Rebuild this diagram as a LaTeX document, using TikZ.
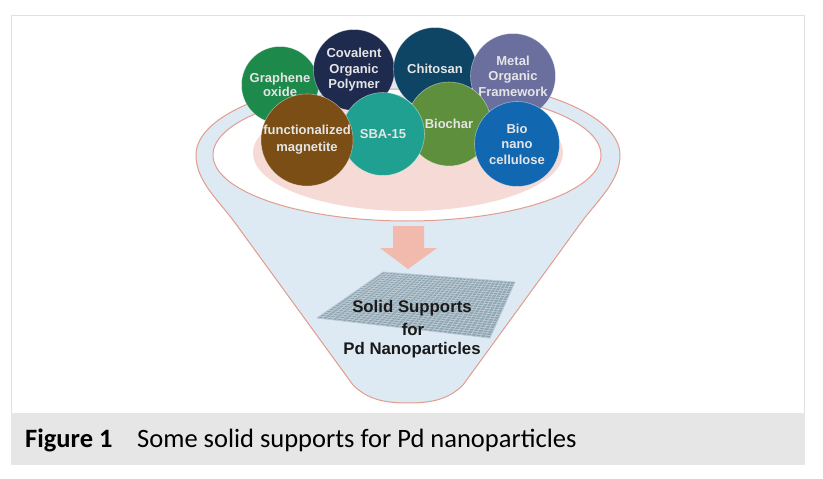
\documentclass[tikz,border=0pt]{standalone}
\usepackage{fontspec}
\setmainfont{Liberation Sans}
\newfontfamily\capfont{Carlito}
\usetikzlibrary{calc}
\definecolor{rimred}{HTML}{E39C8E}
\definecolor{funnelblue}{HTML}{DDE9F3}
\definecolor{bowlpink}{HTML}{F6DAD5}
\definecolor{arrowpink}{HTML}{F2B9AD}
\definecolor{meshgray}{HTML}{8DA3B0}
\definecolor{meshlight}{HTML}{BCCBD4}
\definecolor{capgray}{HTML}{E6E6E6}
\definecolor{graphenecol}{HTML}{1D8A4B}
\definecolor{covalentcol}{HTML}{1E2A4E}
\definecolor{chitosancol}{HTML}{0E4464}
\definecolor{metalcol}{HTML}{6A6F9E}
\definecolor{biocharcol}{HTML}{5E8F3C}
\definecolor{sbacol}{HTML}{1FA090}
\definecolor{magnetitecol}{HTML}{7A4E14}
\definecolor{biocol}{HTML}{1268B0}
\tikzset{
	ball/.style={circle,inner sep=0pt,align=center,draw=white,draw opacity=0.45,line width=0.6pt,
		text=white!90!black,font=\bfseries\fontsize{13}{15.5}\selectfont},
	mesh label/.style={inner sep=0pt,text=black!90,font=\bfseries\fontsize{16.8}{16.8}\selectfont},
	cap label/.style={inner sep=0pt,anchor=base west,text=black,font=\capfont\fontsize{26.5}{26.5}\selectfont}
}
\begin{document}
\begin{tikzpicture}[x=1pt,y=-1pt]
	\useasboundingbox (0,0) rectangle (823,479);
	% panel and caption band
	\fill[white] (0,0) rectangle (823,479);
	\draw[draw=black!12,line width=1pt] (11.5,15.5) rectangle (804,413);
	\fill[capgray] (11,413) rectangle (805,465);
	\node[cap label] (figno) at (25,447) {\textbf{Figure 1}};
	\node[cap label] (captext) at (137,447) {Some solid supports for Pd nanoparticles};
	% funnel
	\draw[draw=rimred,fill=funnelblue,line width=1pt] (196,155) .. controls (196,112) and (291,77) .. (408,77)
		.. controls (525,77) and (620,112) .. (620,155) .. controls (620,180) and (600,198) .. (583,220)
		-- (463,385) .. controls (448,400) and (430,403) .. (408,403) .. controls (386,403) and (368,400) .. (353,385)
		-- (233,220) .. controls (216,198) and (196,180) .. (196,155) -- cycle;
	\draw[draw=rimred,fill=white,line width=1pt] (407,155) ellipse (194 and 66);
	\fill[bowlpink] (408,153) ellipse (155 and 58);
	% arrow
	\fill[arrowpink] (393,226) -- (424,226) -- (424,248) -- (437,248) -- (408,269) -- (380,248) -- (393,248) -- cycle;
	% mesh
	\coordinate (ma) at (317,318);
	\coordinate (mb) at (383,272);
	\coordinate (mc) at (515,282);
	\coordinate (md) at (490,338);
	\fill[meshgray] (ma) -- (mb) -- (mc) -- (md) -- cycle;
	\foreach \i in {0,...,24}
		\draw[meshlight,line width=0.7pt] ($(ma)!\i/24!(mb)$) -- ($(md)!\i/24!(mc)$);
	\foreach \i in {0,...,36}
		\draw[meshlight,line width=0.7pt] ($(ma)!\i/36!(md)$) -- ($(mb)!\i/36!(mc)$);
	\node[mesh label] (solid) at (412,308) {Solid Supports};
	\node[mesh label] (for) at (413,329) {for};
	\node[mesh label] (pd) at (412,350) {Pd Nanoparticles};
	% balls, back row first
	\node[ball,fill=graphenecol,minimum size=77pt] (graphene) at (280,85) {Graphene\\[-1.5pt]oxide};
	\node[ball,fill=covalentcol,minimum size=81pt] (covalent) at (354,70) {Covalent\\Organic\\Polymer};
	\node[ball,fill=chitosancol,minimum size=83pt] (chitosan) at (435,69) {Chitosan};
	\node[ball,fill=metalcol,minimum size=85pt] (metal) at (513,76) {Metal\\Organic\\Framework};
	\node[ball,fill=biocharcol,minimum size=84pt] (biochar) at (449,124) {Biochar};
	\node[ball,fill=sbacol,minimum size=83pt] (sba) at (383,134) {SBA-15};
	\node[ball,fill=magnetitecol,minimum size=85pt] (magnetite) at (307,140) {functionalized\\[1.5pt]magnetite};
	\node[ball,fill=biocol,minimum size=85pt] (bio) at (517,144) {Bio\\nano\\cellulose};
\end{tikzpicture}
\end{document}
